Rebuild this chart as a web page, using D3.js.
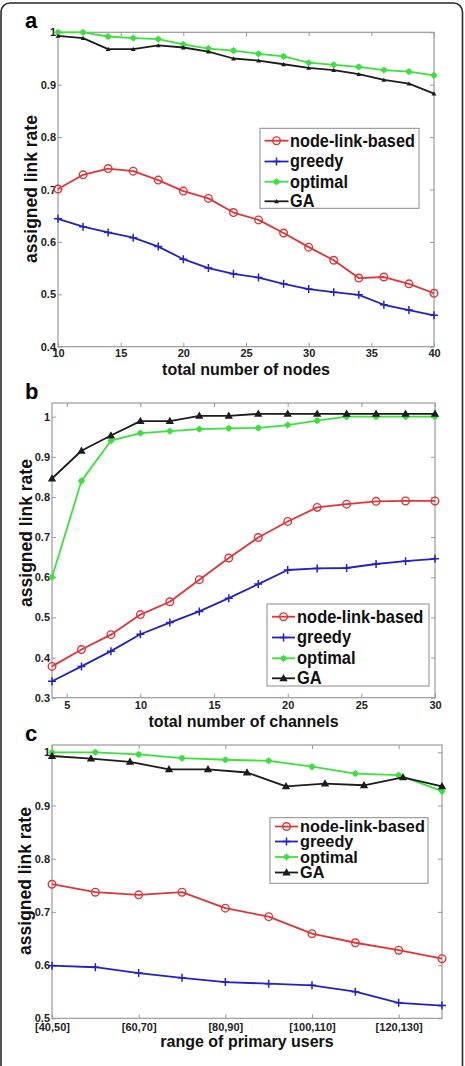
<!DOCTYPE html>
<html>
<head>
<meta charset="utf-8">
<script src="https://cdn.jsdelivr.net/npm/d3@7"></script>
<style>
  html, body { margin: 0; padding: 0; background: #fff; }
  svg { display: block; }
  text { font-family: "Liberation Sans", Arial, sans-serif; }
</style>
</head>
<body>
<svg id="chart" width="465" height="1066"></svg>
<script>
// ---------------- DATA ----------------
const seriesNames = ["node-link-based", "greedy", "optimal", "GA"];

// Panel a
const aX = [10, 12, 14, 16, 18, 20, 22, 24, 26, 28, 30, 32, 34, 36, 38, 40];
const aNode    = [0.701, 0.728, 0.740, 0.735, 0.718, 0.697, 0.683, 0.656, 0.642, 0.617, 0.590, 0.565, 0.531, 0.533, 0.520, 0.502];
const aGreedy  = [0.644, 0.629, 0.618, 0.608, 0.591, 0.567, 0.550, 0.539, 0.532, 0.520, 0.510, 0.504, 0.499, 0.480, 0.470, 0.460];
const aOptimal = [1.000, 1.000, 0.992, 0.989, 0.987, 0.977, 0.969, 0.965, 0.959, 0.954, 0.942, 0.938, 0.934, 0.928, 0.925, 0.918];
const aGA      = [0.993, 0.989, 0.968, 0.968, 0.975, 0.971, 0.963, 0.950, 0.946, 0.939, 0.932, 0.928, 0.920, 0.909, 0.902, 0.883];
const aXTicks = [10, 15, 20, 25, 30, 35, 40];
const aYTicks = [0.4, 0.5, 0.6, 0.7, 0.8, 0.9, 1];

// Panel b
const bX = [4, 6, 8, 10, 12, 14, 16, 18, 20, 22, 24, 26, 28, 30];
const bNode    = [0.378, 0.420, 0.457, 0.507, 0.539, 0.594, 0.648, 0.699, 0.739, 0.774, 0.782, 0.789, 0.790, 0.790];
const bGreedy  = [0.341, 0.378, 0.416, 0.458, 0.487, 0.515, 0.548, 0.583, 0.618, 0.622, 0.623, 0.633, 0.640, 0.646];
const bOptimal = [0.600, 0.840, 0.940, 0.959, 0.964, 0.969, 0.971, 0.972, 0.979, 0.990, 1.000, 1.000, 1.000, 1.000];
const bGA      = [0.846, 0.915, 0.953, 0.989, 0.989, 1.002, 1.002, 1.007, 1.007, 1.007, 1.007, 1.007, 1.007, 1.007];
const bXTicks = [5, 10, 15, 20, 25, 30];
const bYTicks = [0.3, 0.4, 0.5, 0.6, 0.7, 0.8, 0.9, 1];

// Panel c
const cCategories = ["[40,50]", "[50,60]", "[60,70]", "[70,80]", "[80,90]", "[90,100]", "[100,110]", "[110,120]", "[120,130]", "[130,140]"];
const cX = [0, 1, 2, 3, 4, 5, 6, 7, 8, 9];
const cGAx = [0, 0.9, 1.8, 2.7, 3.6, 4.5, 5.4, 6.3, 7.2, 8.1, 9];
const cNode    = [0.752, 0.737, 0.732, 0.737, 0.707, 0.691, 0.659, 0.642, 0.628, 0.612];
const cGreedy  = [0.599, 0.596, 0.585, 0.576, 0.568, 0.565, 0.562, 0.550, 0.529, 0.524];
const cOptimal = [1.000, 1.000, 0.996, 0.989, 0.986, 0.984, 0.973, 0.960, 0.957, 0.927];
const cGA      = [0.993, 0.988, 0.982, 0.968, 0.968, 0.962, 0.936, 0.941, 0.938, 0.953, 0.936];
const cXTicks = [0, 2, 4, 6, 8];
const cYTicks = [0.5, 0.6, 0.7, 0.8, 0.9, 1];

// ---------------- STYLE ----------------
const styles = {
  "node-link-based": { color: "#e03636", marker: "o" },
  "greedy":          { color: "#2222c8", marker: "+" },
  "optimal":         { color: "#3ae23a", marker: "*" },
  "GA":              { color: "#1c1c1c", marker: "^" }
};

const svg = d3.select("#chart");

// outer rounded frame
svg.append("rect")
  .attr("x", 1).attr("y", 3).attr("width", 461.5).attr("height", 1100)
  .attr("rx", 9).attr("ry", 9)
  .attr("fill", "none").attr("stroke", "#2a2a2a").attr("stroke-width", 1.6);

function drawMarker(g, type, x, y, color, triSize) {
  if (type === "o") {
    g.append("circle").attr("cx", x).attr("cy", y).attr("r", 3.8)
      .attr("fill", "none").attr("stroke", color).attr("stroke-width", 1.4);
  } else if (type === "+") {
    g.append("path").attr("d", `M${x-4},${y}H${x+4}M${x},${y-4}V${y+4}`)
      .attr("stroke", color).attr("stroke-width", 1.5).attr("fill", "none");
  } else if (type === "*") {
    g.append("circle").attr("cx", x).attr("cy", y).attr("r", 2.8).attr("fill", color);
    g.append("path").attr("d", `M${x-3.5},${y}H${x+3.5}M${x},${y-3.5}V${y+3.5}`)
      .attr("stroke", color).attr("stroke-width", 1).attr("fill", "none");
  } else if (type === "^") {
    g.append("path").attr("d", d3.symbol(d3.symbolTriangle, triSize)())
      .attr("transform", `translate(${x},${y + 0.5})`).attr("fill", color);
  }
}

function panel(cfg) {
  const g = svg.append("g");
  const x = d3.scaleLinear().domain(cfg.xDomain).range([cfg.left, cfg.right]);
  const y = d3.scaleLinear().domain(cfg.yDomain).range([cfg.bottom, cfg.top]);

  // box
  g.append("rect").attr("x", cfg.left).attr("y", cfg.top)
    .attr("width", cfg.right - cfg.left).attr("height", cfg.bottom - cfg.top)
    .attr("fill", "#fff").attr("stroke", "#9a9a9a").attr("stroke-width", 1.2);

  const yfmt = v => (v === 1 ? "1" : d3.format(".1f")(v));

  // axes (ticks inward)
  const yAxis = d3.axisLeft(y).tickValues(cfg.yTicks).tickFormat(yfmt)
    .tickSizeInner(-4).tickSizeOuter(0).tickPadding(cfg.yPad);
  const yg = g.append("g").attr("transform", `translate(${cfg.left},0)`).call(yAxis);
  const xAxis = d3.axisBottom(x).tickValues(cfg.xTicks).tickFormat(cfg.xFmt)
    .tickSizeInner(-4).tickSizeOuter(0).tickPadding(cfg.xPad);
  const xg = g.append("g").attr("transform", `translate(0,${cfg.bottom})`).call(xAxis);
  // mirrored ticks
  const yr = g.append("g").attr("transform", `translate(${cfg.right},0)`)
    .call(d3.axisRight(y).tickValues(cfg.yTicks).tickFormat("").tickSizeInner(-4).tickSizeOuter(0));
  const xt = g.append("g").attr("transform", `translate(0,${cfg.top})`)
    .call(d3.axisTop(x).tickValues(cfg.xTicks).tickFormat("").tickSizeInner(-4).tickSizeOuter(0));
  [yg, xg, yr, xt].forEach(a => {
    a.select(".domain").remove();
    a.selectAll(".tick line").attr("stroke", "#9a9a9a");
    a.selectAll("text").attr("font-size", 11).attr("font-weight", "bold").attr("fill", "#222");
  });

  // series
  cfg.series.forEach(s => {
    const st = styles[s.name];
    const pts = s.xs.map((xv, i) => [x(xv), y(s.ys[i])]);
    g.append("path").attr("d", d3.line()(pts))
      .attr("fill", "none").attr("stroke", st.color).attr("stroke-width", 1.8)
      .attr("stroke-linejoin", "round");
    const mg = g.append("g");
    pts.forEach(p => drawMarker(mg, st.marker, p[0], p[1], st.color, cfg.triSize));
  });

  // legend
  const L = cfg.legend;
  g.append("rect").attr("x", L.x0).attr("y", L.y0).attr("width", L.x1 - L.x0).attr("height", L.y1 - L.y0)
    .attr("fill", "#fff").attr("stroke", "#8a8a8a").attr("stroke-width", 1);
  seriesNames.forEach((n, i) => {
    const st = styles[n];
    const ly = L.rows[i];
    g.append("line").attr("x1", L.lx0).attr("x2", L.lx1).attr("y1", ly).attr("y2", ly)
      .attr("stroke", st.color).attr("stroke-width", 1.8);
    drawMarker(g, st.marker, (L.lx0 + L.lx1) / 2, ly, st.color, cfg.triSize);
    g.append("text").attr("transform", `translate(${L.tx},${ly + 5.8}) scale(1,${L.sy})`)
      .attr("font-size", L.fs).attr("font-weight", "bold").attr("fill", "#111").text(n);
  });

  // labels
  g.append("text").attr("transform", `translate(${cfg.xLabelX},${cfg.xLabelY}) scale(1,1.08)`)
    .attr("text-anchor", "middle")
    .attr("font-size", 16).attr("font-weight", "bold").attr("fill", "#111").text(cfg.xLabel);
  g.append("text").attr("transform", `translate(${cfg.yLabelX},${cfg.yLabelY}) rotate(-90)`)
    .attr("text-anchor", "middle").attr("font-size", 17.5).attr("font-weight", "bold")
    .attr("fill", "#111").text("assigned link rate");
  g.append("text").attr("x", cfg.tagX).attr("y", cfg.tagY)
    .attr("font-size", 22).attr("font-weight", "bold").attr("fill", "#000").text(cfg.tag);
}

panel({
  tag: "a", tagX: 25, tagY: 28,
  left: 58, right: 434, top: 32.3, bottom: 346.7,
  xDomain: [10, 40], yDomain: [0.4, 1],
  xTicks: aXTicks, yTicks: aYTicks, xFmt: d => d, xPad: 3, yPad: 2,
  triSize: 10,
  series: [
    { name: "node-link-based", xs: aX, ys: aNode },
    { name: "greedy", xs: aX, ys: aGreedy },
    { name: "optimal", xs: aX, ys: aOptimal },
    { name: "GA", xs: aX, ys: aGA }
  ],
  legend: { x0: 260, x1: 419, y0: 128.3, y1: 208.3, rows: [140.7, 161.5, 181.7, 201.3], lx0: 264.5, lx1: 288.5, tx: 290, fs: 16.3, sy: 1.12 },
  xLabel: "total number of nodes", xLabelX: 246, xLabelY: 375,
  yLabelX: 37, yLabelY: 189
});

panel({
  tag: "b", tagX: 25, tagY: 399,
  left: 52, right: 435, top: 403, bottom: 697.7,
  xDomain: [4, 30], yDomain: [0.3, 1.034],
  xTicks: bXTicks, yTicks: bYTicks, xFmt: d => d, xPad: 4, yPad: 2,
  triSize: 30,
  series: [
    { name: "node-link-based", xs: bX, ys: bNode },
    { name: "greedy", xs: bX, ys: bGreedy },
    { name: "optimal", xs: bX, ys: bOptimal },
    { name: "GA", xs: bX, ys: bGA }
  ],
  legend: { x0: 267, x1: 429, y0: 604, y1: 686, rows: [616.7, 637.5, 658.3, 678.3], lx0: 272, lx1: 295, tx: 297, fs: 16.5, sy: 1.12 },
  xLabel: "total number of channels", xLabelX: 243.5, xLabelY: 727,
  yLabelX: 32, yLabelY: 533
});

panel({
  tag: "c", tagX: 25, tagY: 741,
  left: 52, right: 442, top: 745, bottom: 1018.3,
  xDomain: [0, 9], yDomain: [0.5, 1.0137],
  xTicks: cXTicks, yTicks: cYTicks, xFmt: d => cCategories[d], xPad: 5, yPad: 2,
  triSize: 30,
  series: [
    { name: "node-link-based", xs: cX, ys: cNode },
    { name: "greedy", xs: cX, ys: cGreedy },
    { name: "optimal", xs: cX, ys: cOptimal },
    { name: "GA", xs: cGAx, ys: cGA }
  ],
  legend: { x0: 270, x1: 428, y0: 817.7, y1: 883.3, rows: [826.5, 841.5, 857, 872.5], lx0: 275, lx1: 298, tx: 300, fs: 16.3, sy: 1.0 },
  xLabel: "range of primary users", xLabelX: 247, xLabelY: 1047,
  yLabelX: 31, yLabelY: 881
});
</script>
</body>
</html>
